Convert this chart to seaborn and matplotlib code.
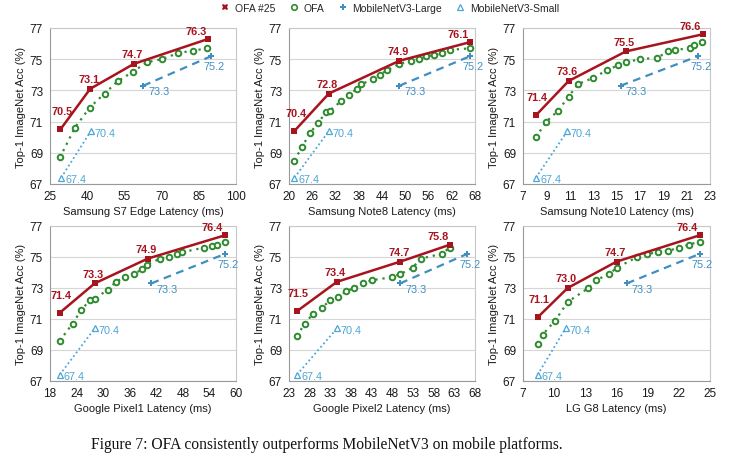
import matplotlib
matplotlib.use("Agg")
import matplotlib.pyplot as plt
import seaborn as sns
import pandas as pd
import numpy as np
from matplotlib.lines import Line2D

# ---------------- data ----------------
devices = ["Samsung S7 Edge", "Samsung Note8", "Samsung Note10",
           "Google Pixel1", "Google Pixel2", "LG G8"]
x_ranges = [(25, 100, 15), (20, 68, 6), (7, 23, 2),
            (18, 60, 6), (23, 68, 5), (7, 25, 3)]

ofa25_lat = [[29.2, 41.2, 58.8, 88.8],
             [21.4, 30.3, 48.5, 66.8],
             [8.1, 10.9, 15.8, 22.4],
             [20.2, 28.1, 40.1, 57.5],
             [24.9, 34.6, 49.9, 62.0],
             [8.4, 11.3, 16.0, 24.0]]
ofa25_acc = [[70.5, 73.1, 74.7, 76.3],
             [70.4, 72.8, 74.9, 76.1],
             [71.4, 73.6, 75.5, 76.6],
             [71.4, 73.3, 74.9, 76.4],
             [71.5, 73.4, 74.7, 75.8],
             [71.1, 73.0, 74.7, 76.4]]

ofa_lat = [[29, 35, 41, 47, 52.4, 58.5, 64, 70, 76.8, 82.8, 88.5],
           [21.4, 23.4, 25.5, 27.5, 29.5, 30.5, 33.4, 35.5, 37.5, 38.6, 41.6,
            43.4, 45.4, 48.5, 51.5, 53.6, 55.4, 57.5, 59.5, 61.6, 66.8],
           [8.1, 9.0, 10.0, 10.9, 11.7, 13.0, 14.2, 15.1, 15.8, 17.0, 18.5,
            19.4, 20.0, 21.3, 21.6, 22.3],
           [20.2, 23.1, 25.1, 27.0, 28.1, 31.1, 32.9, 34.9, 36.9, 38.8, 39.8,
            42.9, 44.8, 46.7, 47.7, 52.7, 54.6, 55.6, 57.5],
           [24.9, 26.8, 28.7, 30.9, 32.9, 34.8, 36.9, 38.8, 41.0, 43.0, 47.9,
            49.9, 52.9, 54.9, 59.9, 61.9],
           [8.4, 8.9, 10.1, 11.3, 13.3, 14.0, 15.3, 16.0, 18.0, 18.9, 20.0,
            21.0, 22.0, 23.0, 24.0]]
ofa_acc = [[68.7, 70.6, 71.9, 72.8, 73.6, 74.2, 74.8, 75.0, 75.4, 75.55, 75.7],
           [68.5, 69.4, 70.3, 70.9, 71.6, 71.7, 72.3, 72.7, 73.1, 73.4, 73.7,
            74.0, 74.3, 74.7, 74.9, 75.0, 75.2, 75.25, 75.4, 75.6, 75.7],
           [70.0, 71.0, 71.7, 72.6, 73.4, 73.8, 74.3, 74.6, 74.8, 75.0, 75.1,
            75.5, 75.6, 75.7, 75.9, 76.1],
           [69.6, 70.7, 71.6, 72.2, 72.3, 72.9, 73.4, 73.7, 73.9, 74.2, 74.5,
            74.9, 75.0, 75.2, 75.3, 75.6, 75.7, 75.8, 76.0],
           [69.9, 70.7, 71.3, 71.7, 72.2, 72.4, 72.8, 73.0, 73.3, 73.5, 73.7,
            73.9, 74.3, 74.9, 75.2, 75.6],
           [69.4, 70.0, 70.9, 72.1, 73.0, 73.5, 73.9, 74.3, 75.0, 75.2, 75.3,
            75.4, 75.6, 75.8, 76.0]]

large_lat = [[62.6, 90.1], [48.5, 66.8], [15.35, 22.0],
             [40.9, 57.5], [49.9, 66.1], [17.0, 24.0]]
large_acc = [73.3, 75.2]
small_lat = [[29.5, 41.5], [21.4, 30.3], [8.1, 10.8],
             [20.2, 28.1], [24.9, 34.6], [8.4, 11.1]]
small_acc = [67.4, 70.4]

y_ticks = [67, 69, 71, 73, 75, 77]

# ---------------- style ----------------
RED = "#A8141E"
GREEN = "#2E8B2E"
BLUE_L = "#3F8FC0"
BLUE_S = "#4BA6D6"
GRID = "#D6D6D6"

sns.set_theme(style="white")
plt.rcParams["font.family"] = ["Liberation Sans", "DejaVu Sans"]

fig = plt.figure(figsize=(7.36, 4.64), dpi=100)
W, H = 736, 464
cols = [(50, 236), (289, 475), (523, 710)]
rows = [(29, 185), (227, 382)]

for i, dev in enumerate(devices):
    r, c = divmod(i, 3)
    l, rr = cols[c]
    t, b = rows[r]
    ax = fig.add_axes([l / W, 1 - b / H, (rr - l) / W, (b - t) / H])

    d25 = pd.DataFrame({"lat": ofa25_lat[i], "acc": ofa25_acc[i]})
    dofa = pd.DataFrame({"lat": ofa_lat[i], "acc": ofa_acc[i]})
    dl = pd.DataFrame({"lat": large_lat[i], "acc": large_acc})
    ds = pd.DataFrame({"lat": small_lat[i], "acc": small_acc})

    sns.lineplot(data=ds, x="lat", y="acc", ax=ax, sort=False, color=BLUE_S,
                 linestyle=(0, (1, 1.5)), linewidth=1.3, marker="^",
                 markersize=4, markerfacecolor="white", markeredgecolor=BLUE_S,
                 markeredgewidth=0.9, zorder=3)
    sns.lineplot(data=dl, x="lat", y="acc", ax=ax, sort=False, color=BLUE_L,
                 linestyle=(0, (3.5, 2.5)), linewidth=1.6, marker="P",
                 markersize=5, markeredgewidth=0, zorder=3)
    sns.lineplot(data=dofa, x="lat", y="acc", ax=ax, sort=False, color=GREEN,
                 linestyle=(0, (1, 2.2)), linewidth=1.6, marker="o",
                 markersize=4, markerfacecolor="white", markeredgecolor=GREEN,
                 markeredgewidth=1.4, zorder=4)
    sns.lineplot(data=d25, x="lat", y="acc", ax=ax, sort=False, color=RED,
                 linestyle="-", linewidth=1.8, marker="s", markersize=4,
                 markeredgewidth=0, zorder=5)

    # annotations
    n = len(ofa25_acc[i])
    for k, (xv, yv) in enumerate(zip(ofa25_lat[i], ofa25_acc[i])):
        if k == 0:
            off = (1, 13)
        elif k == n - 1:
            off = (-9, 6)
        else:
            off = (-1, 7)
        ax.annotate(f"{yv:.1f}", (xv, yv), xytext=off, textcoords="offset points",
                    ha="center", va="center", color=RED, fontsize=7.8,
                    fontweight="semibold", zorder=6)
    ax.annotate(f"{large_acc[0]:.1f}", (large_lat[i][0], large_acc[0]),
                xytext=(3.5, -4), textcoords="offset points", ha="left",
                va="center", color=BLUE_L, fontsize=7.8, zorder=6)
    ax.annotate(f"{large_acc[1]:.1f}", (large_lat[i][1], large_acc[1]),
                xytext=(2, -7.5), textcoords="offset points", ha="center",
                va="center", color=BLUE_L, fontsize=7.8, zorder=6)
    ax.annotate(f"{small_acc[0]:.1f}", (small_lat[i][0], small_acc[0]),
                xytext=(3, -1), textcoords="offset points", ha="left",
                va="center", color=BLUE_S, fontsize=7.8, zorder=6)
    ax.annotate(f"{small_acc[1]:.1f}", (small_lat[i][1], small_acc[1]),
                xytext=(2.5, -1.5), textcoords="offset points", ha="left",
                va="center", color=BLUE_S, fontsize=7.8, zorder=6)

    x0, x1, st = x_ranges[i]
    ax.set_xlim(x0, x1)
    ax.set_xticks(np.arange(x0, x1 + 0.01, st))
    ax.set_ylim(67, 77)
    ax.set_yticks(y_ticks)
    ax.yaxis.grid(True, color=GRID, linewidth=0.8)
    ax.xaxis.grid(False)
    ax.set_axisbelow(True)
    for s in ax.spines.values():
        s.set_color("#C8C8C8")
        s.set_linewidth(0.8)
    ax.spines["left"].set_color("#999999")
    ax.spines["bottom"].set_color("#999999")
    ax.tick_params(axis="y", length=0, labelsize=8.5, pad=5, colors="#1a1a1a")
    ax.tick_params(axis="x", length=0, labelsize=8.5, pad=4.5, colors="#1a1a1a")
    ax.set_xlabel(f"{dev} Latency (ms)", fontsize=8, labelpad=3, color="#1a1a1a")
    ax.set_ylabel("Top-1 ImageNet Acc (%)", fontsize=8, labelpad=3, color="#1a1a1a")

handles = [
    Line2D([], [], linestyle="none", marker="X", color=RED, markersize=5, markeredgewidth=0),
    Line2D([], [], linestyle="none", marker="o", markerfacecolor="white",
           markeredgecolor=GREEN, markeredgewidth=1.2, markersize=4),
    Line2D([], [], linestyle="none", marker="P", color=BLUE_L, markersize=4.5, markeredgewidth=0),
    Line2D([], [], linestyle="none", marker="^", markerfacecolor="white",
           markeredgecolor=BLUE_S, markeredgewidth=0.9, markersize=4),
]
labels = ["OFA #25", "OFA", "MobileNetV3-Large", "MobileNetV3-Small"]
fig.legend(handles, labels, loc="center", bbox_to_anchor=(390 / W, 1 - 9 / H),
           ncol=4, frameon=False, fontsize=7.5, handlelength=0.8,
           handletextpad=0.5, columnspacing=1.4)

fig.text(327 / W, 1 - 445 / H,
         "Figure 7: OFA consistently outperforms MobileNetV3 on mobile platforms.",
         ha="center", va="center", fontsize=11.2, color="#111111",
         family=["Liberation Serif", "DejaVu Serif"])

fig.savefig("out.png", dpi=100, facecolor="white")
